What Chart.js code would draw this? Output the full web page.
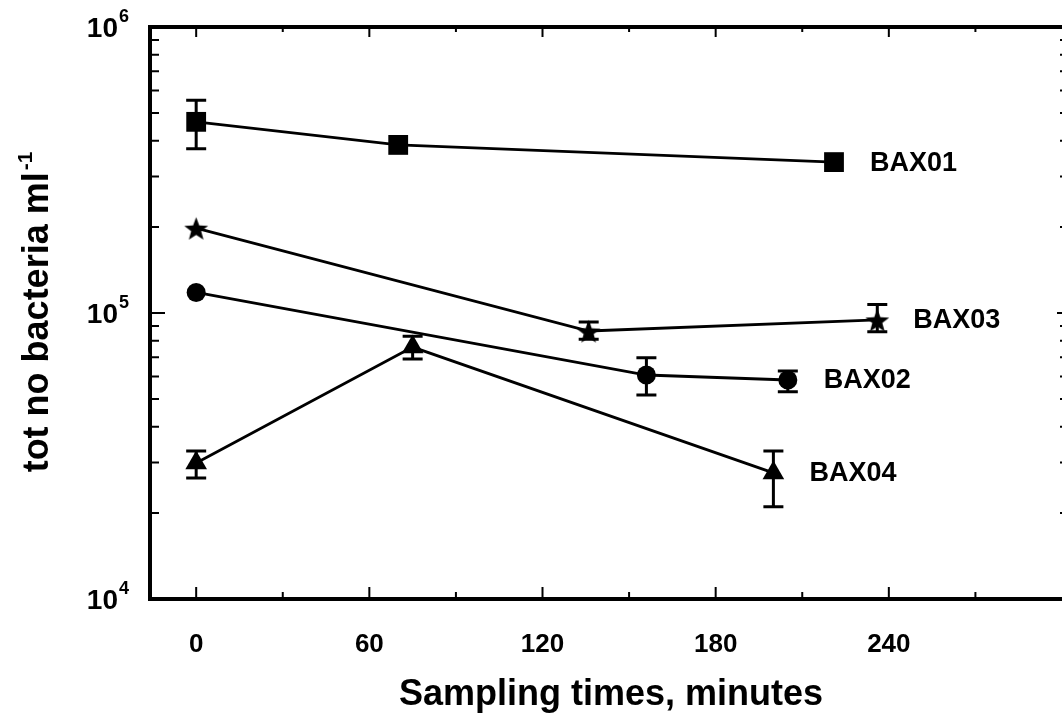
<!DOCTYPE html>
<html>
<head>
<meta charset="utf-8">
<script src="https://cdn.jsdelivr.net/npm/chart.js@4.4.1/dist/chart.umd.min.js"></script>
<style>
  html, body { margin: 0; padding: 0; background: #fff; overflow: hidden; }
  #wrap { width: 1062px; height: 727px; }
</style>
</head>
<body>
<div id="wrap"><canvas id="chart" width="1062" height="727"></canvas></div>
<script>
// values (minutes, bacteria per ml)
const seriesNames = ['BAX01', 'BAX02', 'BAX03', 'BAX04'];

const timesBAX01 = [0, 70, 221];
const countsBAX01 = [466000, 387000, 337000];
const lowBAX01 = [375000, null, null];
const highBAX01 = [555000, null, null];

const timesBAX02 = [0, 156, 205];
const countsBAX02 = [118000, 60700, 58300];
const lowBAX02 = [null, 51700, 53000];
const highBAX02 = [null, 69700, 62700];

const timesBAX03 = [0, 136, 236];
const countsBAX03 = [198000, 86500, 94600];
const lowBAX03 = [null, 81000, 86000];
const highBAX03 = [null, 93000, 107000];

const timesBAX04 = [0, 75, 200];
const countsBAX04 = [29900, 76000, 27600];
const lowBAX04 = [26500, 69000, 21000];
const highBAX04 = [32900, 83000, 32900];

const xTickLabels = [0, 60, 120, 180, 240];
const yDecades = [4, 5, 6];

const FONT = '"Liberation Sans", Arial, Helvetica, sans-serif';

// filled five-point star used as the BAX03 marker
function makeStar(size) {
  const c = document.createElement('canvas');
  c.width = size; c.height = size;
  const g = c.getContext('2d');
  const cx = size / 2, cy = size / 2 + 1.5, ro = size / 2 - 1, ri = ro * 0.42;
  g.beginPath();
  for (let i = 0; i < 10; i++) {
    const r = i % 2 ? ri : ro;
    const a = -Math.PI / 2 + i * Math.PI / 5;
    g.lineTo(cx + r * Math.cos(a), cy + r * Math.sin(a));
  }
  g.closePath();
  g.fillStyle = '#000';
  g.fill();
  return c;
}

function pts(times, counts) {
  return times.map((t, i) => ({ x: t, y: counts[i] }));
}

const series = [
  { name: seriesNames[0], data: pts(timesBAX01, countsBAX01), low: lowBAX01, high: highBAX01, style: 'rect', radius: 14 },
  { name: seriesNames[1], data: pts(timesBAX02, countsBAX02), low: lowBAX02, high: highBAX02, style: 'circle', radius: 9.5 },
  { name: seriesNames[2], data: pts(timesBAX03, countsBAX03), low: lowBAX03, high: highBAX03, style: makeStar(27), radius: 13 },
  { name: seriesNames[3], data: pts(timesBAX04, countsBAX04), low: lowBAX04, high: highBAX04, style: 'triangle', radius: 12.5 }
];

// frame, inward ticks and tick labels
const axesPlugin = {
  id: 'axes',
  afterDraw(chart) {
    const { ctx, chartArea: a, scales: { x, y } } = chart;
    ctx.save();
    ctx.strokeStyle = '#000';
    ctx.fillStyle = '#000';

    // x ticks every 30 min, top and bottom
    ctx.lineWidth = 2;
    for (let t = 0; t <= 270; t += 30) {
      const px = x.getPixelForValue(t);
      const len = t % 60 === 0 ? 12 : 7;
      ctx.beginPath();
      ctx.moveTo(px, a.bottom); ctx.lineTo(px, a.bottom - len);
      ctx.moveTo(px, a.top); ctx.lineTo(px, a.top + len - 2);
      ctx.stroke();
    }
    // y ticks, log minor ticks; the right axis is cut off, only tick tips show
    for (let d = yDecades[0]; d < yDecades[yDecades.length - 1]; d++) {
      for (let m = 1; m <= 9; m++) {
        const py = y.getPixelForValue(m * Math.pow(10, d));
        const len = m === 1 ? 15 : 9;
        ctx.beginPath();
        ctx.moveTo(a.left, py); ctx.lineTo(a.left + len, py);
        ctx.moveTo(a.right, py); ctx.lineTo(a.right - (m === 1 ? 5 : 2), py);
        ctx.stroke();
      }
    }

    // frame (left, top, bottom)
    ctx.lineWidth = 4;
    ctx.beginPath();
    ctx.moveTo(a.left, a.top); ctx.lineTo(a.right, a.top);
    ctx.moveTo(a.left, a.bottom); ctx.lineTo(a.right, a.bottom);
    ctx.moveTo(a.left, a.top - 2); ctx.lineTo(a.left, a.bottom + 2);
    ctx.stroke();

    // x tick labels
    ctx.font = 'bold 26px ' + FONT;
    ctx.textAlign = 'center';
    ctx.textBaseline = 'middle';
    xTickLabels.forEach(t => ctx.fillText(String(t), x.getPixelForValue(t), a.bottom + 46));

    // y tick labels: 10 with superscript exponent
    yDecades.forEach(e => {
      const py = y.getPixelForValue(Math.pow(10, e));
      ctx.font = 'bold 28px ' + FONT;
      ctx.textAlign = 'right';
      ctx.textBaseline = 'middle';
      ctx.fillText('10', a.left - 32, py + 2);
      ctx.font = 'bold 18px ' + FONT;
      ctx.textAlign = 'left';
      ctx.fillText(String(e), a.left - 31, py - 10);
    });

    // x title
    ctx.font = 'bold 36px ' + FONT;
    ctx.textAlign = 'center';
    ctx.textBaseline = 'middle';
    ctx.fillText('Sampling times, minutes', 611, 695);

    // y title, rotated, with superscript -1
    ctx.translate(48, 312);
    ctx.rotate(-Math.PI / 2);
    const main = 'tot no bacteria ml';
    ctx.font = 'bold 36px ' + FONT;
    const wMain = ctx.measureText(main).width;
    ctx.font = 'bold 21px ' + FONT;
    const wSup = ctx.measureText('-1').width;
    const x0 = -(wMain + wSup + 2) / 2;
    ctx.textAlign = 'left';
    ctx.textBaseline = 'alphabetic';
    ctx.font = 'bold 36px ' + FONT;
    ctx.fillText(main, x0, 0);
    ctx.font = 'bold 21px ' + FONT;
    ctx.fillText('-1', x0 + wMain + 2, -16);
    ctx.restore();
  }
};

// vertical error bars with caps
const errorBarPlugin = {
  id: 'errorBars',
  afterDatasetsDraw(chart) {
    const { ctx, scales: { x, y } } = chart;
    ctx.save();
    ctx.strokeStyle = '#000';
    ctx.lineWidth = 3;
    series.forEach(s => {
      s.data.forEach((p, i) => {
        if (s.low[i] == null) return;
        const px = x.getPixelForValue(p.x);
        const yl = y.getPixelForValue(s.low[i]);
        const yh = y.getPixelForValue(s.high[i]);
        ctx.beginPath();
        ctx.moveTo(px, yl); ctx.lineTo(px, yh);
        ctx.moveTo(px - 10, yl); ctx.lineTo(px + 10, yl);
        ctx.moveTo(px - 10, yh); ctx.lineTo(px + 10, yh);
        ctx.stroke();
      });
    });
    ctx.restore();
  }
};

// series names written next to their last point
const endLabelPlugin = {
  id: 'endLabels',
  afterDatasetsDraw(chart) {
    const { ctx, scales: { x, y } } = chart;
    ctx.save();
    ctx.fillStyle = '#000';
    ctx.font = 'bold 27px ' + FONT;
    ctx.textAlign = 'left';
    ctx.textBaseline = 'middle';
    series.forEach(s => {
      const last = s.data[s.data.length - 1];
      ctx.fillText(s.name, x.getPixelForValue(last.x) + 36, y.getPixelForValue(last.y) + 1);
    });
    ctx.restore();
  }
};

new Chart(document.getElementById('chart'), {
  type: 'line',
  data: {
    datasets: series.map(s => ({
      label: s.name,
      data: s.data,
      borderColor: '#000',
      backgroundColor: '#000',
      borderWidth: 2.8,
      pointStyle: s.style,
      pointRadius: s.radius,
      pointBorderWidth: 0,
      pointBackgroundColor: '#000',
      tension: 0
    }))
  },
  options: {
    responsive: false,
    animation: false,
    clip: false,
    layout: { autoPadding: false, padding: { left: 150, top: 27, right: 0, bottom: 128 } },
    plugins: { legend: { display: false }, tooltip: { enabled: false } },
    scales: {
      x: { type: 'linear', min: -16, max: 300, display: false },
      y: { type: 'logarithmic', min: 10000, max: 1000000, display: false }
    }
  },
  plugins: [axesPlugin, errorBarPlugin, endLabelPlugin]
});
</script>
</body>
</html>
